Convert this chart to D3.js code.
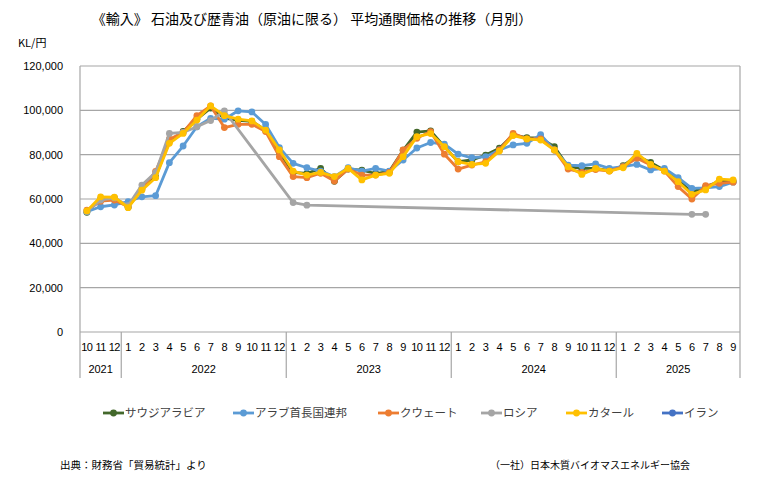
<!DOCTYPE html>
<html>
<head>
<meta charset="utf-8">
<script src="https://cdn.jsdelivr.net/npm/d3@7"></script>
<style>
  body { margin: 0; background: #fff; }
  text { font-family: "Noto Sans CJK JP", "Noto Sans", sans-serif; fill: #000; }
</style>
</head>
<body>
<svg width="777" height="482"></svg>
<script>
// months Oct 2021 .. Sep 2025
const monthLabels = ["10","11","12","1","2","3","4","5","6","7","8","9","10","11","12",
  "1","2","3","4","5","6","7","8","9","10","11","12",
  "1","2","3","4","5","6","7","8","9","10","11","12",
  "1","2","3","4","5","6","7","8","9"];
const yearLabels = ["2021", "2022", "2023", "2024", "2025"];
const yearCounts = [3, 12, 12, 12, 9];
const yTicks = [0, 20000, 40000, 60000, 80000, 100000, 120000];

const saudi = [54000, 60000, 60500, 56300, 64500, 70000, 86000, 90500, 96000, 101000, 96500, 95500,
  95000, 91000, 81000, 72000, 71500, 73800, 68000, 73500, 73000, 71500, 72500, 82000,
  90200, 90700, 83600, 76800, 77600, 79800, 82900, 88900, 87700, 87400, 83600, 74600,
  73800, 73800, 72800, 75000, 79500, 76500, 73000, 68500, 63000, 65500, 68000, 68000];
const uae = [54300, 56500, 57300, 58800, 61000, 61500, 76400, 83900, 92600, 96400, 96000, 99800,
  99300, 93600, 83200, 76100, 74100, 72600, 70100, 74100, 72600, 73800, 72600, 77600,
  83000, 85500, 84700, 80200, 78600, 79100, 82100, 84400, 85100, 89000, 82100, 75300,
  75000, 75800, 73800, 74600, 75600, 73100, 73800, 69600, 64800, 65000, 65600, 67600];
const kuwait = [55000, 59000, 59500, 56500, 64500, 72500, 87000, 90000, 97600, 102000, 92200, 93700,
  93700, 90400, 79100, 70100, 69600, 71600, 68100, 73500, 70800, 70800, 72000, 82100,
  87400, 90400, 80200, 73500, 75300, 76800, 82100, 89600, 87100, 87100, 82100, 73500,
  72000, 73300, 72600, 74600, 78400, 75300, 72600, 65600, 60000, 66000, 67100, 67600];
const russia = [54500, 59500, 60500, 57000, 66300, 72000, 89600, 90000, 92600, 95400, 99700, null,
  null, null, null, 58400, 57200, null, null, null, null, null, null, null,
  null, null, null, null, null, null, null, null, null, null, null, null,
  null, null, null, null, null, null, null, null, 53100, 53100, null, null];
const qatar = [54600, 61000, 60800, 56100, 64000, 69600, 85100, 89600, 95600, 102000, 97600, 96000,
  95200, 91100, 82100, 72600, 70800, 72000, 70100, 73800, 68600, 70800, 71600, 79100,
  88100, 89500, 83600, 76800, 75600, 76100, 81600, 88600, 87100, 86600, 82100, 74600,
  71100, 73800, 72600, 74100, 80600, 75600, 72600, 67800, 62100, 64100, 69000, 68600];
const iran = monthLabels.map(() => null);

const seriesNames = ["サウジアラビア", "アラブ首長国連邦", "クウェート", "ロシア", "カタール", "イラン"];
const seriesColors = ["#43682B", "#5B9BD5", "#ED7D31", "#A5A5A5", "#FFC000", "#4472C4"];
const seriesValues = [saudi, uae, kuwait, russia, qatar, iran];

const svg = d3.select("svg");
const plotLeft = 80, plotRight = 740, plotTop = 66, plotBottom = 332;

const x = d3.scaleBand().domain(d3.range(monthLabels.length)).range([plotLeft, plotRight]).padding(0);
const y = d3.scaleLinear().domain([0, 120000]).range([plotBottom, plotTop]);
const cx = i => x(i) + x.bandwidth() / 2;

// title
svg.append("text").attr("x", 312).attr("y", 24).attr("text-anchor", "middle")
  .style("font-size", "14px").text("《輸入》 石油及び歴青油（原油に限る） 平均通関価格の推移（月別）");
svg.append("text").attr("x", 18).attr("y", 47).style("font-size", "11px").text("KL/円");

// grid
svg.append("g").selectAll("line").data(yTicks).join("line")
  .attr("x1", plotLeft).attr("x2", plotRight)
  .attr("y1", d => y(d)).attr("y2", d => y(d))
  .attr("stroke", "#a6a6a6").attr("stroke-width", 1.2);
svg.append("line").attr("x1", plotLeft).attr("x2", plotLeft).attr("y1", plotTop).attr("y2", 378)
  .attr("stroke", "#a6a6a6").attr("stroke-width", 1.2);
svg.append("line").attr("x1", plotRight).attr("x2", plotRight).attr("y1", plotTop).attr("y2", 378)
  .attr("stroke", "#a6a6a6").attr("stroke-width", 1.2);

// y axis
const yAxis = svg.append("g").attr("transform", `translate(${plotLeft - 14},0)`)
  .call(d3.axisLeft(y).tickValues(yTicks).tickSize(0).tickFormat(d3.format(",")));
yAxis.select(".domain").remove();
yAxis.selectAll("text").style("font-size", "11px").style("font-family", "Liberation Sans, sans-serif");

// month labels
svg.append("g").selectAll("text").data(monthLabels).join("text")
  .attr("x", (d, i) => cx(i)).attr("y", 351).attr("text-anchor", "middle")
  .style("font-size", "11px").style("font-family", "Liberation Sans, sans-serif")
  .style("letter-spacing", "-0.6px")
  .text(d => d);

// year labels and separators
let start = 0;
yearLabels.forEach((yr, k) => {
  const end = start + yearCounts[k];
  const x0 = x(start), x1 = end < monthLabels.length ? x(end) : plotRight;
  svg.append("text").attr("x", (x0 + x1) / 2).attr("y", 373).attr("text-anchor", "middle")
    .style("font-size", "11px").style("font-family", "Liberation Sans, sans-serif").text(yr);
  if (end < monthLabels.length) {
    svg.append("line").attr("x1", x1).attr("x2", x1).attr("y1", plotBottom).attr("y2", 378)
      .attr("stroke", "#a6a6a6").attr("stroke-width", 1.2);
  }
  start = end;
});

// series
const line = d3.line().x(d => cx(d.i)).y(d => y(d.v));
seriesValues.forEach((vals, s) => {
  const pts = vals.map((v, i) => ({ i, v })).filter(d => d.v != null);
  const g = svg.append("g");
  g.append("path").datum(pts).attr("d", line).attr("fill", "none")
    .attr("stroke", seriesColors[s]).attr("stroke-width", 2.8).attr("stroke-linejoin", "round");
  g.selectAll("circle").data(pts).join("circle")
    .attr("cx", d => cx(d.i)).attr("cy", d => y(d.v)).attr("r", 3.4)
    .attr("fill", seriesColors[s]);
});

// legend
const legendX = [103, 233, 378, 481, 566, 662];
seriesNames.forEach((name, s) => {
  const g = svg.append("g").attr("transform", `translate(${legendX[s]},413)`);
  g.append("line").attr("x1", 0).attr("x2", 21).attr("stroke", seriesColors[s]).attr("stroke-width", 2.8);
  g.append("circle").attr("cx", 10.5).attr("r", 3.4).attr("fill", seriesColors[s]);
  g.append("text").attr("x", 22).attr("y", 4).style("font-size", "11.5px").style("fill", "#404040").text(name);
});

// footer
svg.append("text").attr("x", 60).attr("y", 469).style("font-size", "10.5px").text("出典：財務省「貿易統計」より");
svg.append("text").attr("x", 490).attr("y", 469).style("font-size", "10px").text("（一社）日本木質バイオマスエネルギー協会");
</script>
</body>
</html>
